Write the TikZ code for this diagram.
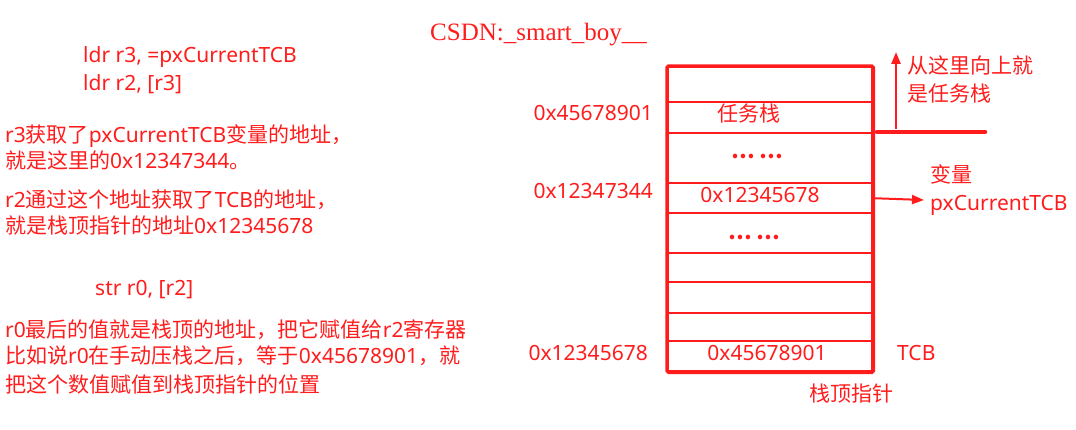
\documentclass[tikz,border=0pt]{standalone}
\usepackage{fontspec}
\setmainfont{Noto Sans}
\newfontfamily\cjk{Noto Sans CJK SC}
\newfontfamily\titlefont{Liberation Serif}
\usetikzlibrary{arrows.meta}
\definecolor{myred}{RGB}{255,28,28}
\newcommand{\zh}[1]{{\cjk #1}}
\begin{document}
\begin{tikzpicture}[x=1pt,y=-1pt,
  every node/.style={text=myred, font=\fontsize{21}{28}\selectfont, inner sep=0pt, text height=15pt, text depth=4pt},
  cell/.style={draw=myred, line width=2.4pt, minimum width=204pt, anchor=north west},
  txt/.style={anchor=west},
  dots/.style={font=\cjk\bfseries\fontsize{21}{28}\selectfont},
  arr/.style={draw=myred, line width=2.5pt, -{Triangle[length=12pt,width=9pt]}}]
\useasboundingbox (0,0) rectangle (1076,430);
% title
\node[anchor=west, font=\titlefont\fontsize{25}{28}\selectfont, text height=17pt, text depth=5pt] (title) at (430,35) {CSDN:\_smart\_boy\_\_};
% left text
\node[txt] (l1) at (83,57) {ldr r3, =pxCurrentTCB};
\node[txt] (l2) at (83,85) {ldr r2, [r3]};
\node[txt] (l3) at (5,137) {r3\zh{获取了}pxCurrentTCB\zh{变量的地址，}};
\node[txt] (l4) at (5,163) {\zh{就是这里的}0x12347344\zh{。}};
\node[txt] (l5) at (5,202) {r2\zh{通过这个地址获取了}TCB\zh{的地址，}};
\node[txt] (l6) at (5,228) {\zh{就是栈顶指针的地址}0x12345678};
\node[txt] (l7) at (95,290) {str r0, [r2]};
\node[txt] (l8) at (5,332) {r0\zh{最后的值就是栈顶的地址，把它赋值给}r2\zh{寄存器}};
\node[txt] (l9) at (5,358) {\zh{比如说}r0\zh{在手动压栈之后，等于}0x45678901\zh{，就}};
\node[txt] (l10) at (5,387) {\zh{把这个数值赋值到栈顶指针的位置}};
% stack cells
\node[cell, minimum height=35pt] (c1) at (667,66) {};
\node[cell, minimum height=31pt] (c2) at (667,101) {};
\node[cell, minimum height=50pt] (c3) at (667,132) {};
\node[cell, minimum height=30pt] (c4) at (667,182) {};
\node[cell, minimum height=40pt] (c5) at (667,212) {};
\node[cell, minimum height=29pt] (c6) at (667,252) {};
\node[cell, minimum height=31pt] (c7) at (667,281) {};
\node[cell, minimum height=28pt] (c8) at (667,312) {};
\node[cell, minimum height=30pt] (c9) at (667,340) {};
\draw[myred, line width=3.2pt, rounded corners=1.5pt] (c1.north west) rectangle (c9.south east);
% cell texts
\node (t2) at (749,116) {\zh{任务栈}};
\node[dots] (t3) at (757,153) {… …};
\node (t4) at (760,197) {0x12345678};
\node[dots] (t5) at (754,234) {… …};
\node (t9) at (767,355) {0x45678901};
% addresses
\node[anchor=east] (a1) at (653,115) {0x45678901};
\node[anchor=east] (a2) at (653,193) {0x12347344};
\node[anchor=east] (a3) at (648,355) {0x12345678};
% marker line and up arrow
\coordinate (hl1) at (877,132);
\coordinate (hl2) at (985,132);
\draw[myred, line width=4.5pt, line cap=round] (hl1) -- (hl2);
\coordinate (ub) at (896,129);
\coordinate (ut) at (896,52);
\draw[arr] (ub) -- (ut);
\node[anchor=west] (up1) at (907,68) {\zh{从这里向上就}};
\node[anchor=west] (up2) at (907,96) {\zh{是任务栈}};
% variable arrow
\node[anchor=west] (v1) at (930,177) {\zh{变量}};
\node[anchor=west] (v2) at (930,205) {pxCurrentTCB};
\coordinate (vt) at (924,200);
\draw[arr, line width=2pt] (c4.east) -- (vt);
% bottom labels
\node[anchor=west] (tcb) at (897,355) {TCB};
\node[anchor=west] (sp) at (809,396) {\zh{栈顶指针}};
\end{tikzpicture}
\end{document}
